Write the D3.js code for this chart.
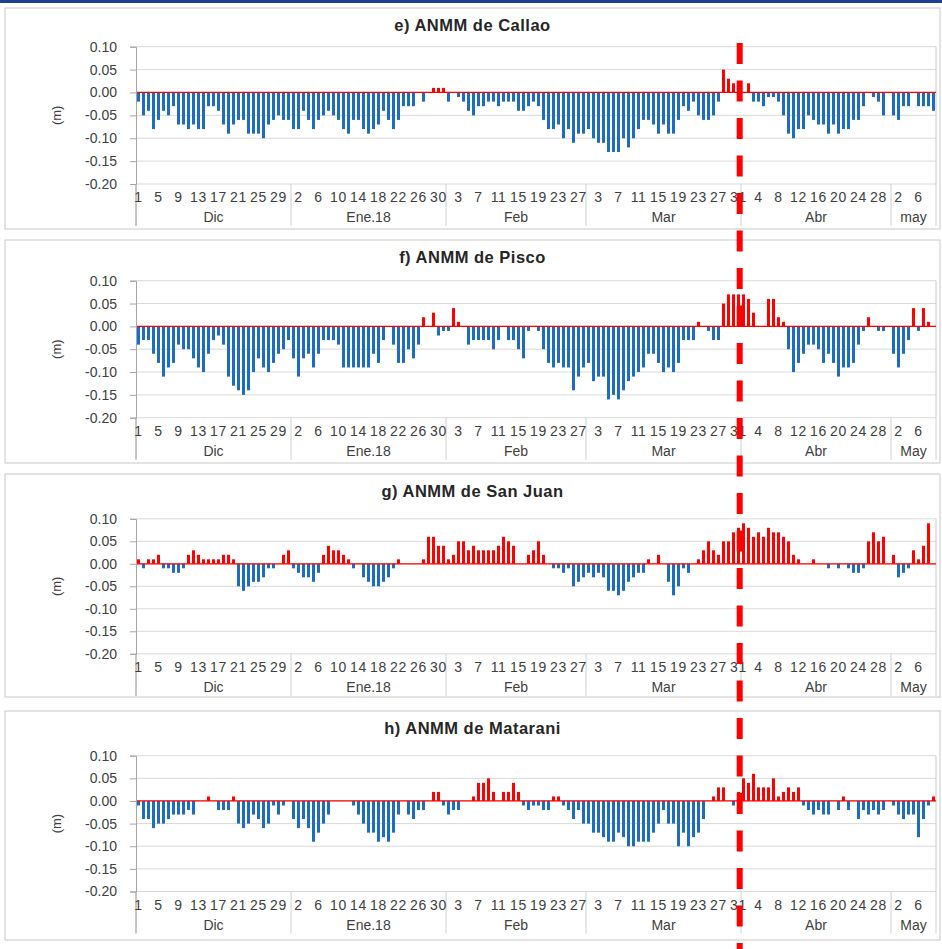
<!DOCTYPE html>
<html>
<head>
<meta charset="utf-8">
<script src="https://cdn.jsdelivr.net/npm/d3@7"></script>
<style>
    body { margin: 0; background: #fff; }
    svg text { font-family: "Liberation Sans", Arial, sans-serif; }
</style>
</head>
<body>
<script>
(function () {

    // categories: months of the daily series (Dec 2017 - May 2018)
    var monthNames = ["Dic", "Ene.18", "Feb", "Mar", "Abr", "May"];
    var monthDays = [31, 31, 28, 31, 30, 9];
    var yTicks = [0.10, 0.05, 0.00, -0.05, -0.10, -0.15, -0.20];
    var titles = ["e) ANMM de Callao", "f) ANMM de Pisco", "g) ANMM de San Juan", "h) ANMM de Matarani"];
    var lastMonthLabel = ["may", "May", "May", "May"];

    // daily sea level anomaly (m), Dec 1 -> May 9
    var callao = [
        -0.02,-0.05,-0.04,-0.08,-0.06,-0.04,-0.05,-0.03,-0.07,-0.07,-0.08,-0.07,-0.08,-0.08,-0.03,-0.03,-0.04,-0.07,-0.09,-0.07,-0.06,-0.06,-0.09,-0.09,-0.09,-0.10,-0.07,-0.06,-0.05,-0.06,-0.06,
        -0.08,-0.08,-0.04,-0.06,-0.08,-0.06,-0.05,-0.04,-0.05,-0.06,-0.08,-0.09,-0.06,-0.06,-0.08,-0.09,-0.08,-0.07,-0.04,-0.06,-0.08,-0.06,-0.03,-0.03,-0.03,0,-0.02,0,0.01,0.01,0.01,
        -0.02,0,-0.01,-0.02,-0.04,-0.05,-0.03,-0.03,-0.02,-0.02,-0.03,-0.02,-0.02,-0.02,-0.04,-0.04,-0.03,-0.02,-0.03,-0.06,-0.08,-0.08,-0.07,-0.10,-0.08,-0.11,-0.09,-0.09,
        -0.08,-0.10,-0.11,-0.11,-0.13,-0.13,-0.13,-0.10,-0.12,-0.10,-0.08,-0.06,-0.06,-0.07,-0.09,-0.07,-0.09,-0.09,-0.06,-0.03,-0.04,-0.02,-0.05,-0.06,-0.06,-0.05,-0.02,0.05,0.03,0.02,0.025,
        0,0.02,-0.02,-0.02,-0.03,-0.01,-0.01,-0.02,-0.05,-0.09,-0.10,-0.08,-0.08,-0.05,-0.06,-0.07,-0.07,-0.09,-0.07,-0.09,-0.08,-0.08,-0.06,-0.06,-0.03,0,-0.01,-0.02,-0.05,0,
        -0.05,-0.06,-0.03,-0.03,0,-0.03,-0.03,-0.03,-0.04
    ];
    var pisco = [
        -0.04,-0.03,-0.03,-0.06,-0.08,-0.11,-0.09,-0.08,-0.04,-0.05,-0.05,-0.07,-0.09,-0.10,-0.06,-0.03,-0.02,-0.04,-0.11,-0.13,-0.14,-0.15,-0.14,-0.10,-0.07,-0.09,-0.10,-0.08,-0.06,-0.05,-0.03,
        -0.07,-0.11,-0.07,-0.06,-0.09,-0.06,-0.03,-0.03,-0.03,-0.04,-0.09,-0.09,-0.09,-0.09,-0.09,-0.09,-0.06,-0.08,-0.03,0,-0.04,-0.08,-0.08,-0.05,-0.07,-0.04,0.02,0,0.03,-0.02,-0.01,
        -0.01,0.04,0.01,0,-0.04,-0.03,-0.03,-0.03,-0.03,-0.05,-0.03,0,-0.03,-0.03,-0.05,-0.07,-0.01,0,-0.01,-0.05,-0.08,-0.09,-0.08,-0.09,-0.09,-0.14,-0.11,-0.09,
        -0.08,-0.12,-0.11,-0.11,-0.16,-0.15,-0.16,-0.14,-0.12,-0.11,-0.10,-0.09,-0.06,-0.06,-0.08,-0.10,-0.09,-0.10,-0.08,-0.03,-0.03,-0.03,0.01,0,-0.01,-0.03,-0.03,0.05,0.07,0.07,0.07,
        0.07,0.06,0.03,0,0,0.06,0.06,0.02,0.01,-0.05,-0.10,-0.08,-0.06,-0.04,-0.04,-0.05,-0.08,-0.06,-0.08,-0.11,-0.09,-0.09,-0.08,-0.04,-0.01,0.02,0,-0.01,-0.01,0,
        -0.06,-0.09,-0.06,-0.03,0.04,-0.01,0.04,0.01,0
    ];
    var sanJuan = [
        0.01,-0.01,0.01,0.01,0.02,-0.01,-0.01,-0.02,-0.02,-0.01,0.02,0.03,0.02,0.01,0.01,0.01,0.01,0.02,0.02,0.01,-0.05,-0.06,-0.05,-0.04,-0.04,-0.03,-0.01,-0.01,0,0.02,0.03,
        -0.01,-0.02,-0.03,-0.03,-0.04,-0.02,0.02,0.04,0.03,0.03,0.02,0.01,-0.01,0,-0.03,-0.04,-0.05,-0.05,-0.04,-0.03,-0.01,0.01,0,0,0,0,0.01,0.06,0.06,0.04,0.04,
        0.01,0.02,0.05,0.05,0.03,0.04,0.03,0.03,0.03,0.03,0.04,0.06,0.05,0.04,0,0,0.02,0.03,0.05,0.02,0,-0.01,-0.01,-0.02,-0.01,-0.05,-0.04,-0.03,
        -0.02,-0.03,-0.02,-0.03,-0.06,-0.06,-0.07,-0.06,-0.04,-0.03,-0.02,-0.02,0.01,0,0.02,0,-0.04,-0.07,-0.05,-0.01,-0.02,0,0.01,0.03,0.05,0.03,0.02,0.05,0.05,0.07,0.08,
        0.09,0.08,0.06,0.07,0.06,0.08,0.07,0.07,0.06,0.05,0.02,0.01,0,0,0.01,0,0,-0.01,0,-0.01,0,-0.01,-0.02,-0.02,-0.01,0.05,0.07,0.05,0.06,0,
        0.02,-0.03,-0.02,-0.01,0.03,0.01,0.04,0.09,0
    ];
    var matarani = [
        -0.01,-0.04,-0.04,-0.06,-0.05,-0.05,-0.04,-0.03,-0.03,-0.03,-0.02,-0.03,0,0,0.01,0,-0.02,-0.02,-0.02,0.01,-0.05,-0.06,-0.05,-0.03,-0.04,-0.06,-0.05,-0.01,-0.03,-0.01,0,
        -0.04,-0.06,-0.04,-0.06,-0.09,-0.07,-0.05,-0.03,0,0,0,0,-0.01,-0.03,-0.05,-0.07,-0.07,-0.09,-0.08,-0.09,-0.07,-0.03,0,-0.03,-0.04,-0.02,-0.02,0,0.02,0.02,-0.01,
        -0.03,-0.02,-0.02,0,0,0.01,0.04,0.04,0.05,0.02,0,0.02,0.02,0.04,0.02,-0.01,-0.02,-0.01,-0.01,-0.02,-0.02,0.01,0.01,-0.01,-0.02,-0.04,-0.02,-0.05,
        -0.05,-0.07,-0.07,-0.08,-0.09,-0.09,-0.07,-0.08,-0.10,-0.10,-0.09,-0.09,-0.09,-0.07,-0.05,-0.02,-0.05,-0.05,-0.10,-0.07,-0.10,-0.08,-0.07,-0.04,0,0.01,0.03,0.03,0,-0.01,0.02,
        0.05,0.04,0.06,0.03,0.03,0.03,0.05,0.01,0.02,0.03,0.02,0.03,-0.01,-0.02,-0.03,-0.02,-0.03,-0.03,0,-0.02,0.01,-0.02,0,-0.04,-0.02,-0.03,-0.02,-0.03,-0.02,0,
        -0.01,-0.03,-0.04,-0.03,-0.03,-0.08,-0.04,-0.01,0.01
    ];
    var series = [callao, pisco, sanJuan, matarani];

    // layout
    var width = 942,
        height = 949,
        frameLeft = 5,
        frameRight = 940,
        plotLeft = 136,
        plotRight = 936,
        panelBox = [[8, 229], [240, 463], [474, 697], [711, 940]],
        plotBox = [[46.7, 184], [280.7, 417.7], [518.8, 653.8], [755.7, 891.5]];

    var blue = "#1c6cc2",
        red = "#ff0000";

    // day list built from month lengths
    var days = [];
    var monthStart = [];
    monthDays.forEach(function (n, m) {
        monthStart.push(days.length);
        for (var d = 1; d <= n; d++) days.push({ month: m, day: d });
    });
    monthStart.push(days.length);

    var x = d3.scaleBand()
        .domain(d3.range(days.length))
        .range([plotLeft, plotRight])
        .paddingInner(0.4)
        .paddingOuter(0.2);

    var xPos = d3.scaleLinear()
        .domain([0, days.length])
        .range([plotLeft, plotRight]);

    var svg = d3.select("body")
        .append("svg")
        .attr("width", width)
        .attr("height", height);

    // header strip
    svg.append("rect")
        .attr("x", 0).attr("y", 0)
        .attr("width", width).attr("height", 3)
        .attr("fill", "#1f3f8f");

    series.forEach(function (values, p) {
        drawPanel(values, p);
    });

    // Mar/Apr marker
    svg.append("line")
        .attr("x1", xPos(monthStart[4]) - 1.3)
        .attr("x2", xPos(monthStart[4]) - 1.3)
        .attr("y1", 43)
        .attr("y2", height)
        .attr("stroke", red)
        .attr("stroke-width", 6)
        .attr("stroke-dasharray", "21,16.5");

    function drawPanel(values, p) {
        var top = plotBox[p][0],
            bottom = plotBox[p][1];

        var g = svg.append("g").attr("class", "panel");

        g.append("rect")
            .attr("x", frameLeft)
            .attr("y", panelBox[p][0])
            .attr("width", frameRight - frameLeft)
            .attr("height", panelBox[p][1] - panelBox[p][0])
            .attr("fill", "#fff")
            .attr("stroke", "#c8c8c8")
            .attr("stroke-width", 1);

        var y = d3.scaleLinear()
            .domain([-0.20, 0.10])
            .range([bottom, top]);

        // gridlines
        g.selectAll(".grid")
            .data(yTicks)
            .enter()
            .append("line")
            .attr("class", "grid")
            .attr("x1", plotLeft)
            .attr("x2", plotRight)
            .attr("y1", function (d) { return y(d); })
            .attr("y2", function (d) { return y(d); })
            .attr("stroke", "#d9d9d9")
            .attr("stroke-width", 1);

        g.append("line")
            .attr("x1", plotRight).attr("x2", plotRight)
            .attr("y1", top).attr("y2", bottom)
            .attr("stroke", "#c8c8c8");

        // month dividers under the plot
        g.selectAll(".divider")
            .data(monthStart)
            .enter()
            .append("line")
            .attr("class", "divider")
            .attr("x1", function (d) { return xPos(d); })
            .attr("x2", function (d) { return xPos(d); })
            .attr("y1", bottom)
            .attr("y2", bottom + 42)
            .attr("stroke", "#d0d0d0");

        // bars
        g.selectAll(".bar")
            .data(values)
            .enter()
            .append("rect")
            .attr("class", "bar")
            .attr("x", function (d, i) { return x(i); })
            .attr("width", x.bandwidth())
            .attr("y", function (d) { return d >= 0 ? y(d) : y(0); })
            .attr("height", function (d) { return Math.abs(y(d) - y(0)); })
            .attr("fill", function (d) { return d >= 0 ? red : blue; });

        // zero line
        g.append("line")
            .attr("x1", plotLeft).attr("x2", plotRight)
            .attr("y1", y(0)).attr("y2", y(0))
            .attr("stroke", red)
            .attr("stroke-width", 1.3);

        // y axis
        var yAxis = d3.axisLeft(y)
            .tickValues(yTicks)
            .tickFormat(function (d) { return d.toFixed(2); })
            .tickSize(6)
            .tickPadding(13);

        var axis = g.append("g")
            .attr("transform", "translate(" + plotLeft + ",0)")
            .call(yAxis);
        axis.select(".domain").attr("stroke", "#a6a6a6");
        axis.selectAll(".tick line").attr("stroke", "#a6a6a6");
        axis.selectAll("text")
            .attr("fill", "#404040")
            .style("font-size", "14px");

        g.append("line")
            .attr("x1", plotLeft).attr("x2", plotLeft)
            .attr("y1", bottom).attr("y2", bottom + 42)
            .attr("stroke", "#a6a6a6");

        // day labels every 4 days
        g.selectAll(".dayLabel")
            .data(days.filter(function (d, i) { return i % 4 === 0; }))
            .enter()
            .append("text")
            .attr("class", "dayLabel")
            .attr("x", function (d) { return x(days.indexOf(d)) + x.bandwidth() / 2; })
            .attr("y", bottom + 18)
            .attr("text-anchor", "middle")
            .attr("fill", "#404040")
            .style("font-size", "14px")
            .style("letter-spacing", "0.6px")
            .text(function (d) { return d.day; });

        // month labels
        g.selectAll(".monthLabel")
            .data(monthNames)
            .enter()
            .append("text")
            .attr("class", "monthLabel")
            .attr("x", function (d, m) { return (xPos(monthStart[m]) + xPos(monthStart[m + 1])) / 2; })
            .attr("y", bottom + 38)
            .attr("text-anchor", "middle")
            .attr("fill", "#404040")
            .style("font-size", "14px")
            .text(function (d, m) { return m === monthNames.length - 1 ? lastMonthLabel[p] : d; });

        // unit label
        g.append("text")
            .attr("transform", "translate(61," + ((top + bottom) / 2) + ") rotate(-90)")
            .attr("text-anchor", "middle")
            .attr("fill", "#404040")
            .style("font-size", "13px")
            .text("(m)");

        // title
        g.append("text")
            .attr("x", (frameLeft + frameRight) / 2)
            .attr("y", panelBox[p][0] + 23)
            .attr("text-anchor", "middle")
            .attr("fill", "#262626")
            .style("font-size", "16.5px")
            .style("font-weight", "bold")
            .style("letter-spacing", "0.5px")
            .text(titles[p]);
    }

})();
</script>
</body>
</html>
